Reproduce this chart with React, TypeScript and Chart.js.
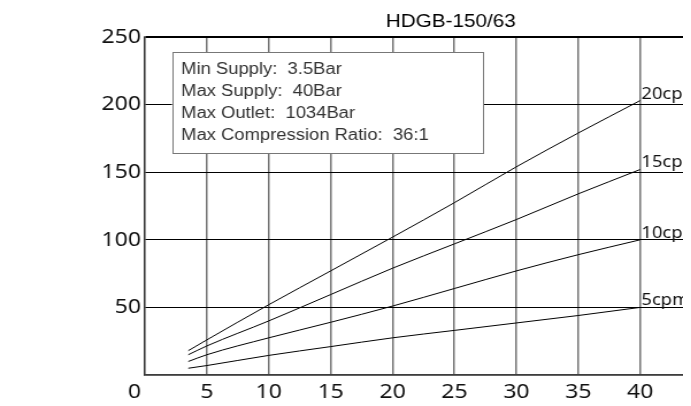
import React, { useEffect, useRef } from "react";
import { Chart, registerables } from "chart.js";

Chart.register(...registerables);

const TITLE = "HDGB-150/63";
const inletPressure = [3.5, 5, 10, 15, 20, 25, 30, 35, 40];
const flow20cpm = [18, 26, 52, 77, 102, 127.5, 154, 179, 203];
const flow15cpm = [15, 21.5, 40, 59.5, 79, 97, 115, 134, 152];
const flow10cpm = [10, 15, 27.5, 39, 51, 64, 77, 89, 100];
const flow5cpm = [5, 7, 14.5, 21, 27.5, 33, 38.5, 44, 50];
const seriesLabels = ["20cpm", "15cpm", "10cpm", "5cpm"];
const infoLines = [
  "Min Supply:  3.5Bar",
  "Max Supply:  40Bar",
  "Max Outlet:  1034Bar",
  "Max Compression Ratio:  36:1",
];
const xTicks = { min: 0, max: 45, step: 5 };
const yTicks = { min: 0, max: 250, step: 50 };

const STRETCH = 1.15;
const CW = 620;
const CH = 398;
const TICK_FONT = '"Noto Sans", "Open Sans", sans-serif';
const TEXT_FONT = '"Liberation Sans", Arial, sans-serif';

const overlay = {
  id: "overlay",
  afterDraw(chart: any) {
    const ctx = chart.ctx as CanvasRenderingContext2D;
    const { left, top, bottom } = chart.chartArea;
    ctx.save();
    // title
    ctx.font = `18px ${TEXT_FONT}`;
    ctx.fillStyle = "#000";
    ctx.textAlign = "center";
    ctx.textBaseline = "alphabetic";
    ctx.fillText(TITLE, 385, 18.7);

    // info box
    const bx = left + 23.5;
    const by = top + 15;
    const bw = 270.4;
    const bh = 101;
    ctx.fillStyle = "#fff";
    ctx.fillRect(bx, by, bw, bh);
    ctx.strokeStyle = "#777";
    ctx.lineWidth = 1;
    ctx.strokeRect(Math.round(bx) + 0.5, Math.round(by) + 0.5, Math.round(bw), Math.round(bh));
    ctx.font = `16px ${TEXT_FONT}`;
    ctx.fillStyle = "#333";
    ctx.textAlign = "left";
    infoLines.forEach((t, i) => {
      ctx.fillText(t, bx + 8, by + 22.3 + i * 21.9);
    });

    // zero label
    ctx.font = `20px ${TICK_FONT}`;
    ctx.fillStyle = "#111";
    ctx.textAlign = "right";
    ctx.textBaseline = "middle";
    ctx.fillText("0", left - 3.5, bottom + 17);

    // curve labels
    ctx.font = `16px ${TICK_FONT}`;
    ctx.textAlign = "left";
    ctx.textBaseline = "alphabetic";
    chart.data.datasets.forEach((ds: any, i: number) => {
      const meta = chart.getDatasetMeta(i);
      const last = meta.data[meta.data.length - 1];
      if (!last) return;
      ctx.fillText(seriesLabels[i], last.x + 1, last.y - 2);
    });
    ctx.restore();
  },
};

export default function App() {
  const ref = useRef<HTMLCanvasElement | null>(null);
  useEffect(() => {
    document.documentElement.style.overflow = "hidden";
    const canvas = ref.current!;
    const series = [flow20cpm, flow15cpm, flow10cpm, flow5cpm];
    const chart = new Chart(canvas, {
      type: "line",
      data: {
        datasets: series.map((s, i) => ({
          label: seriesLabels[i],
          data: s.map((v, j) => ({ x: inletPressure[j], y: v })),
          borderColor: "#000",
          borderWidth: 1,
          pointRadius: 0,
          cubicInterpolationMode: "monotone" as const,
          fill: false,
        })),
      },
      options: {
        responsive: false,
        animation: false,
        devicePixelRatio: 1,
        layout: { padding: { left: 0, top: 29, right: CW - 605.3, bottom: 0 } },
        plugins: { legend: { display: false }, tooltip: { enabled: false }, title: { display: false } },
        scales: {
          x: {
            type: "linear",
            min: xTicks.min,
            max: xTicks.max,
            afterFit: (s: any) => {
              s.height = CH - 367;
            },
            ticks: {
              stepSize: xTicks.step,
              padding: 5,
              color: "#111",
              font: { family: TICK_FONT, size: 20 },
              maxRotation: 0,
              callback: (v: any) => (v === 0 ? "" : String(v)),
            },
            grid: { color: "rgba(0,0,0,0.55)", lineWidth: 1.5, drawTicks: false },
            border: { color: "rgba(0,0,0,0.55)", width: 1.5 },
          },
          y: {
            min: yTicks.min,
            max: yTicks.max,
            afterFit: (s: any) => {
              s.width = 119.1;
            },
            ticks: {
              stepSize: yTicks.step,
              padding: 3.5,
              color: "#111",
              font: { family: TICK_FONT, size: 20 },
              callback: (v: any) => (v === 0 ? "" : String(v)),
            },
            grid: {
              color: (c: any) => (c.tick && c.tick.value === 0 ? "#888" : "#000"),
              lineWidth: (c: any) => (c.tick && (c.tick.value === 250 || c.tick.value === 0) ? 2 : 1),
              drawTicks: false,
            },
            border: { color: "rgba(0,0,0,0.55)", width: 1.5 },
          },
        },
      },
      plugins: [overlay],
    });
    return () => chart.destroy();
  }, []);
  return (
    <div style={{ width: 683, height: CH, overflow: "hidden", position: "relative" }}>
      <canvas
        ref={ref}
        width={CW}
        height={CH}
        style={{
          display: "block",
          width: CW,
          height: CH,
          transform: `scaleX(${STRETCH})`,
          transformOrigin: "0 0",
        }}
      />
    </div>
  );
}
